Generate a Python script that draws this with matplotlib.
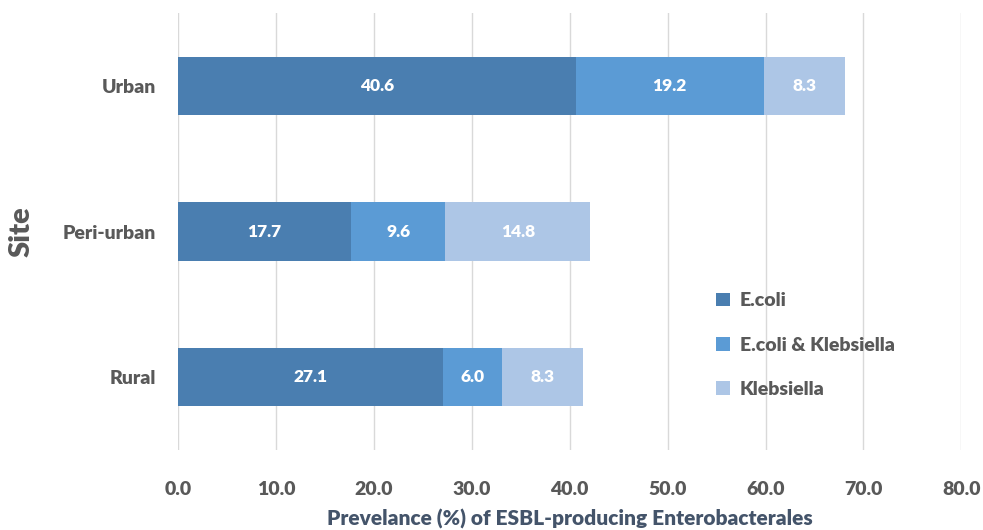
import matplotlib
matplotlib.use("Agg")
import matplotlib.pyplot as plt
import numpy as np

plt.rcParams["font.family"] = ["Lato", "DejaVu Sans"]

sites = ["Rural", "Peri-urban", "Urban"]
ecoli = [27.1, 17.7, 40.6]
ecoli_kleb = [6.0, 9.6, 19.2]
kleb = [8.3, 14.8, 8.3]
series_names = ["E.coli", "E.coli & Klebsiella", "Klebsiella"]
xticks = [0, 10, 20, 30, 40, 50, 60, 70, 80]

COLORS = ["#4A7EB0", "#5B9BD5", "#ADC6E6"]
GREY = "#595959"
W = "heavy"

fig = plt.figure(figsize=(9.83, 5.30), dpi=100)
ax = fig.add_axes([0.181, 0.151, 0.797, 0.824])

y = np.arange(len(sites))
left = np.zeros(len(sites))
for vals, name, col in zip([ecoli, ecoli_kleb, kleb], series_names, COLORS):
    bars = ax.barh(y, vals, left=left, height=0.4, color=col, label=name, zorder=3)
    for b, v in zip(bars, vals):
        ax.text(b.get_x() + b.get_width() / 2, b.get_y() + b.get_height() / 2, f"{v:.1f}",
                ha="center", va="center", color="white", fontsize=12.5, fontweight=W, zorder=4)
    left = left + np.array(vals)

ax.set_xlim(0, 80)
ax.set_ylim(-0.5, 2.5)
ax.set_xticks(xticks)
ax.set_xticklabels([f"{t:.1f}" for t in xticks], fontsize=14, color=GREY, fontweight=W)
ax.set_yticks(y)
ax.set_yticklabels(sites, fontsize=14, color=GREY, fontweight=W)
ax.tick_params(axis="both", length=0)
ax.tick_params(axis="x", pad=22)
ax.tick_params(axis="y", pad=16)
ax.grid(axis="x", color="#D9D9D9", linewidth=1, zorder=0)
for s in ax.spines.values():
    s.set_visible(False)

ax.set_xlabel("Prevelance (%) of ESBL-producing Enterobacterales", fontsize=15,
              color="#44546A", fontweight=W, labelpad=8)
ax.set_ylabel("Site", fontsize=21, color=GREY, fontweight=W, labelpad=20)

leg = ax.legend(loc="center left", bbox_to_anchor=(0.665, 0.24), frameon=False,
                fontsize=14, labelspacing=1.4, handlelength=0.7, handleheight=0.7,
                handletextpad=0.5)
for t in leg.get_texts():
    t.set_color(GREY)
    t.set_fontweight(W)

fig.savefig("out.png", dpi=100)
